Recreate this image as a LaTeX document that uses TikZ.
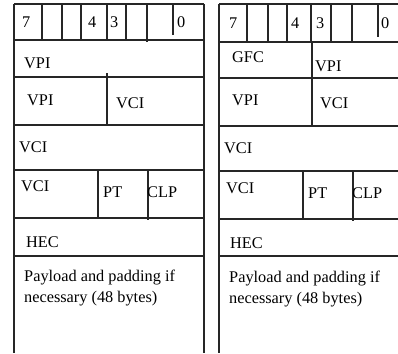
\documentclass[tikz,border=0pt]{standalone}
\usepackage{fontspec}
\setmainfont{Liberation Serif}
\begin{document}
\begin{tikzpicture}[x=1pt,y=-1pt,
  rule/.style={line width=1.2pt,draw=black!85},
  lbl/.style={anchor=base west,inner sep=0pt,font=\fontsize{16.3}{21}\selectfont}]
\useasboundingbox (0,0) rectangle (398,353);
% ---------- left cell layout ----------
\draw[rule] (14,4) -- (14,353);
\draw[rule] (204,4) -- (204,353);
\foreach \y in {4,40,77,125,170,218,256} \draw[rule] (14,\y) -- (204,\y);
% bit columns of the first octet
\foreach \x in {42,62,81,107,126} \draw[rule] (\x,4) -- (\x,40);
\draw[rule] (147,4) -- (147,42);
\draw[rule] (173,4) -- (173,35);
% field dividers
\draw[rule] (107,73) -- (107,125);
\draw[rule] (98,170) -- (98,218);
\draw[rule] (148,170) -- (148,220);
% labels
\node[lbl] (l7) at (22,28) {7};
\node[lbl] (l4) at (88,28) {4};
\node[lbl] (l3) at (110,28) {3};
\node[lbl] (l0) at (177,28) {0};
\node[lbl] (lvpia) at (24,68) {VPI};
\node[lbl] (lvpib) at (27,105) {VPI};
\node[lbl] (lvcia) at (116,108) {VCI};
\node[lbl] (lvcib) at (19,152) {VCI};
\node[lbl] (lvcic) at (21,191) {VCI};
\node[lbl] (lpt) at (103,197) {PT};
\node[lbl] (lclp) at (147,197) {CLP};
\node[lbl] (lhec) at (26,247) {HEC};
\node[lbl] (lpay1) at (24,281) {Payload and padding if};
\node[lbl] (lpay2) at (24,302) {necessary (48 bytes)};
% ---------- right cell layout ----------
\draw[rule] (219,4) -- (219,353);
\foreach \y in {4,42,78,126,171,219,256} \draw[rule] (219,\y) -- (398,\y);
\foreach \x in {247,268,287,331} \draw[rule] (\x,4) -- (\x,42);
\draw[rule] (352,4) -- (352,43);
\draw[rule] (378,4) -- (378,37);
\draw[rule] (311,4) -- (311,43);
\draw[rule] (312,42) -- (312,126);
\draw[rule] (303,171) -- (303,219);
\draw[rule] (353,171) -- (353,221);
\node[lbl] (r7) at (229,29) {7};
\node[lbl] (r4) at (291,29) {4};
\node[lbl] (r3) at (316,29) {3};
\node[lbl] (r0) at (381,29) {0};
\node[lbl] (rgfc) at (232,63) {GFC};
\node[lbl] (rvpia) at (315,71) {VPI};
\node[lbl] (rvpib) at (232,105) {VPI};
\node[lbl] (rvcia) at (320,108) {VCI};
\node[lbl] (rvcib) at (224,153) {VCI};
\node[lbl] (rvcic) at (226,193) {VCI};
\node[lbl] (rpt) at (308,198) {PT};
\node[lbl] (rclp) at (352,198) {CLP};
\node[lbl] (rhec) at (230,248) {HEC};
\node[lbl] (rpay1) at (229,282) {Payload and padding if};
\node[lbl] (rpay2) at (229,303) {necessary (48 bytes)};
\end{tikzpicture}
\end{document}
